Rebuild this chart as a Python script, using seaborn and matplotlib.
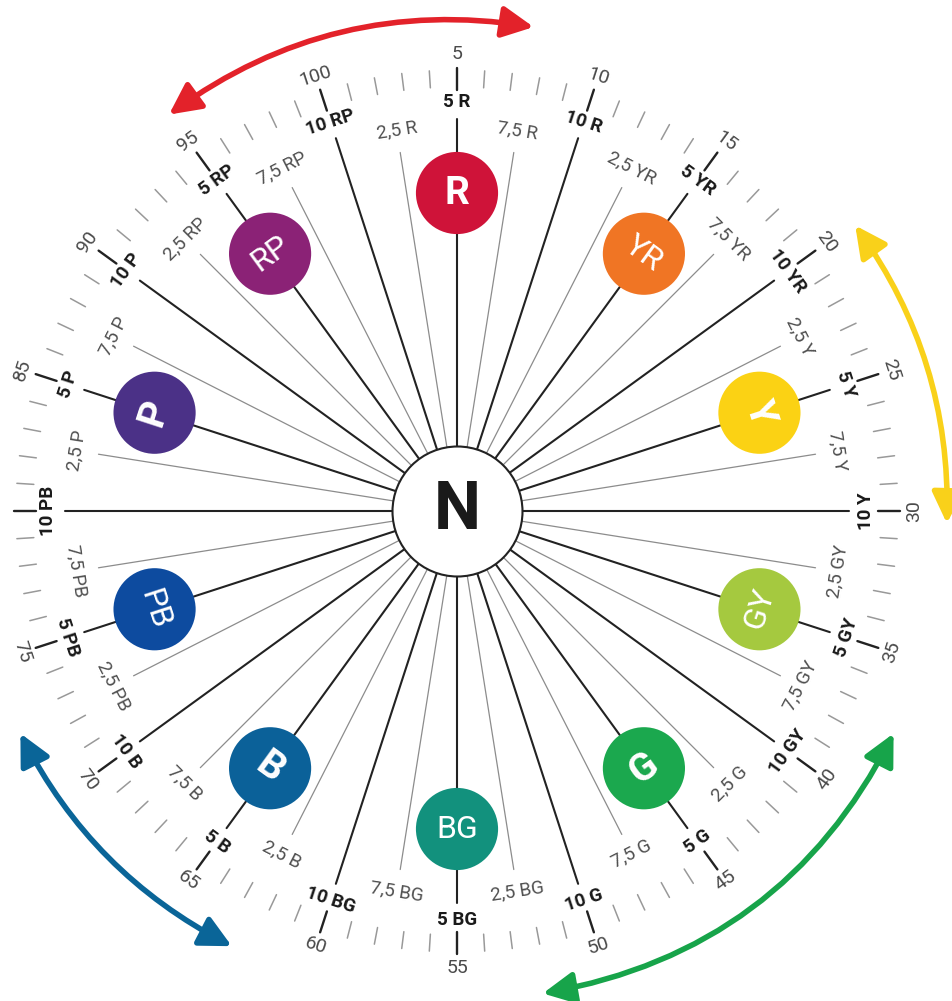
import numpy as np
import pandas as pd
import matplotlib
matplotlib.use("Agg")
import matplotlib.pyplot as plt
import seaborn as sns
from matplotlib.patches import FancyArrowPatch

# ---------------- data ----------------
hue_names = ["R", "YR", "Y", "GY", "G", "BG", "B", "PB", "P", "RP"]
hue_centers = [5, 15, 25, 35, 45, 55, 65, 75, 85, 95]
hue_colors = ["#cf1339", "#f07524", "#fbd214", "#a5c93f", "#1ba84e",
              "#12917d", "#0b6199", "#0d4b9f", "#4b3187", "#8b2276"]
principal_hues = ["R", "Y", "G", "B", "P"]
step_values = [2.5, 5.0, 7.5, 10.0]
step_labels = ["2,5", "5", "7,5", "10"]
# the "80" label falls outside the visible picture in the reference
number_ticks = [5, 10, 15, 20, 25, 30, 35, 40, 45, 50, 55, 60, 65, 70, 75, 85, 90, 95, 100]
minor_ticks = list(range(1, 101))
arrow_spans = [(95.0, 107.5), (20.1, 30.4), (37.5, 52.2), (62.6, 72.5)]
arrow_colors = ["#e3222a", "#f9d11a", "#17a44a", "#0a6598"]

# ---------------- style ----------------
sns.set_theme(style="white")
plt.rcParams['font.family'] = ['Roboto', 'DejaVu Sans']

W, H = 952, 1001
CX, CY = 457, 511
R_AX = 510
fig = plt.figure(figsize=(W / 100, H / 100), dpi=100)
fig.patch.set_facecolor("white")
ax = fig.add_axes([(CX - R_AX) / W, (H - CY - R_AX) / H, 2 * R_AX / W, 2 * R_AX / H],
                  projection="polar")
ax.set_ylim(0, R_AX)
ax.set_axis_off()


def theta(h):
    return np.deg2rad(90 - (h - 5) * 3.6)


def text_rot(h):
    a = round((90 - (h - 5) * 3.6) % 360, 6)
    return a - 90 if 0 < a <= 180 else a - 270


# radial lines
rows = []
for i, name in enumerate(hue_names):
    base = hue_centers[i] - 5
    for sv in step_values:
        h = base + sv
        major = sv in (5.0, 10.0)
        kind = "major" if major else "minor"
        rend = 392 if major else 363
        rows.append(dict(line=f"{h}", theta=theta(h), r=65, kind=kind))
        rows.append(dict(line=f"{h}", theta=theta(h), r=rend, kind=kind))
lines = pd.DataFrame(rows)
sns.lineplot(data=lines, x="theta", y="r", units="line", estimator=None, sort=False,
             hue="kind", palette={"major": "#222222", "minor": "#8c8c8c"},
             size="kind", sizes={"major": 1.5, "minor": 0.9},
             legend=False, ax=ax, zorder=1)

# outer ticks
trows = []
for t in minor_ticks:
    major = t % 5 == 0
    kind = "major" if major else "minor"
    r0, r1 = (421, 443) if major else (424, 441)
    trows.append(dict(line=f"t{t}", theta=theta(t), r=r0, kind=kind))
    trows.append(dict(line=f"t{t}", theta=theta(t), r=r1, kind=kind))
ticks = pd.DataFrame(trows)
sns.lineplot(data=ticks, x="theta", y="r", units="line", estimator=None, sort=False,
             hue="kind", palette={"major": "#222222", "minor": "#999999"},
             size="kind", sizes={"major": 1.7, "minor": 1.1},
             legend=False, ax=ax, zorder=1)

# hue circles
circ = pd.DataFrame(dict(name=hue_names, theta=[theta(h) for h in hue_centers],
                         r=[318] * len(hue_names)))
sns.scatterplot(data=circ, x="theta", y="r", hue="name",
                palette=dict(zip(hue_names, hue_colors)), s=3500, linewidth=0,
                legend=False, ax=ax, zorder=3)
for name, h in zip(hue_names, hue_centers):
    bold = name in principal_hues
    ax.text(theta(h), 318, name, rotation=text_rot(h), rotation_mode="anchor",
            ha="center", va="center", color="white",
            fontsize=28 if bold else 23, fontweight="bold" if bold else "normal",
            zorder=4)

# neutral centre
ax.scatter([0], [0], s=8761, facecolor="white", edgecolor="#222222", linewidth=1.5, zorder=3)
ax.text(0, 0, "N", ha="center", va="center", fontsize=48, fontweight="bold",
        color="#1a1a1a", zorder=4)

# step labels
for i, name in enumerate(hue_names):
    base = hue_centers[i] - 5
    for sv, sl in zip(step_values, step_labels):
        h = base + sv
        major = sv in (5.0, 10.0)
        ax.text(theta(h), 409 if major else 385, f"{sl} {name}",
                rotation=text_rot(h), rotation_mode="anchor", ha="center", va="center",
                fontsize=13.5, fontweight="bold" if major else "normal",
                color="#1a1a1a" if major else "#505050", zorder=4)

# number labels
for t in number_ticks:
    ax.text(theta(t), 457, str(t), rotation=text_rot(t), rotation_mode="anchor",
            ha="center", va="center", fontsize=14, fontweight="normal",
            color="#4a4a4a", zorder=4)

# arrows
for (h0, h1), col in zip(arrow_spans, arrow_colors):
    tA, tB = theta(h0), theta(h1)
    phi = abs(tA - tB) / 2
    rad = -np.tan(phi) / 2
    arr = FancyArrowPatch((tA, 490), (tB, 490), transform=ax.transData,
                          connectionstyle=f"arc3,rad={rad}",
                          arrowstyle="<|-|>,head_length=19,head_width=9.5",
                          mutation_scale=1, lw=4.0, color=col,
                          shrinkA=0, shrinkB=0, clip_on=False, zorder=2)
    ax.add_patch(arr)

fig.savefig("out.png", dpi=100, facecolor="white")
